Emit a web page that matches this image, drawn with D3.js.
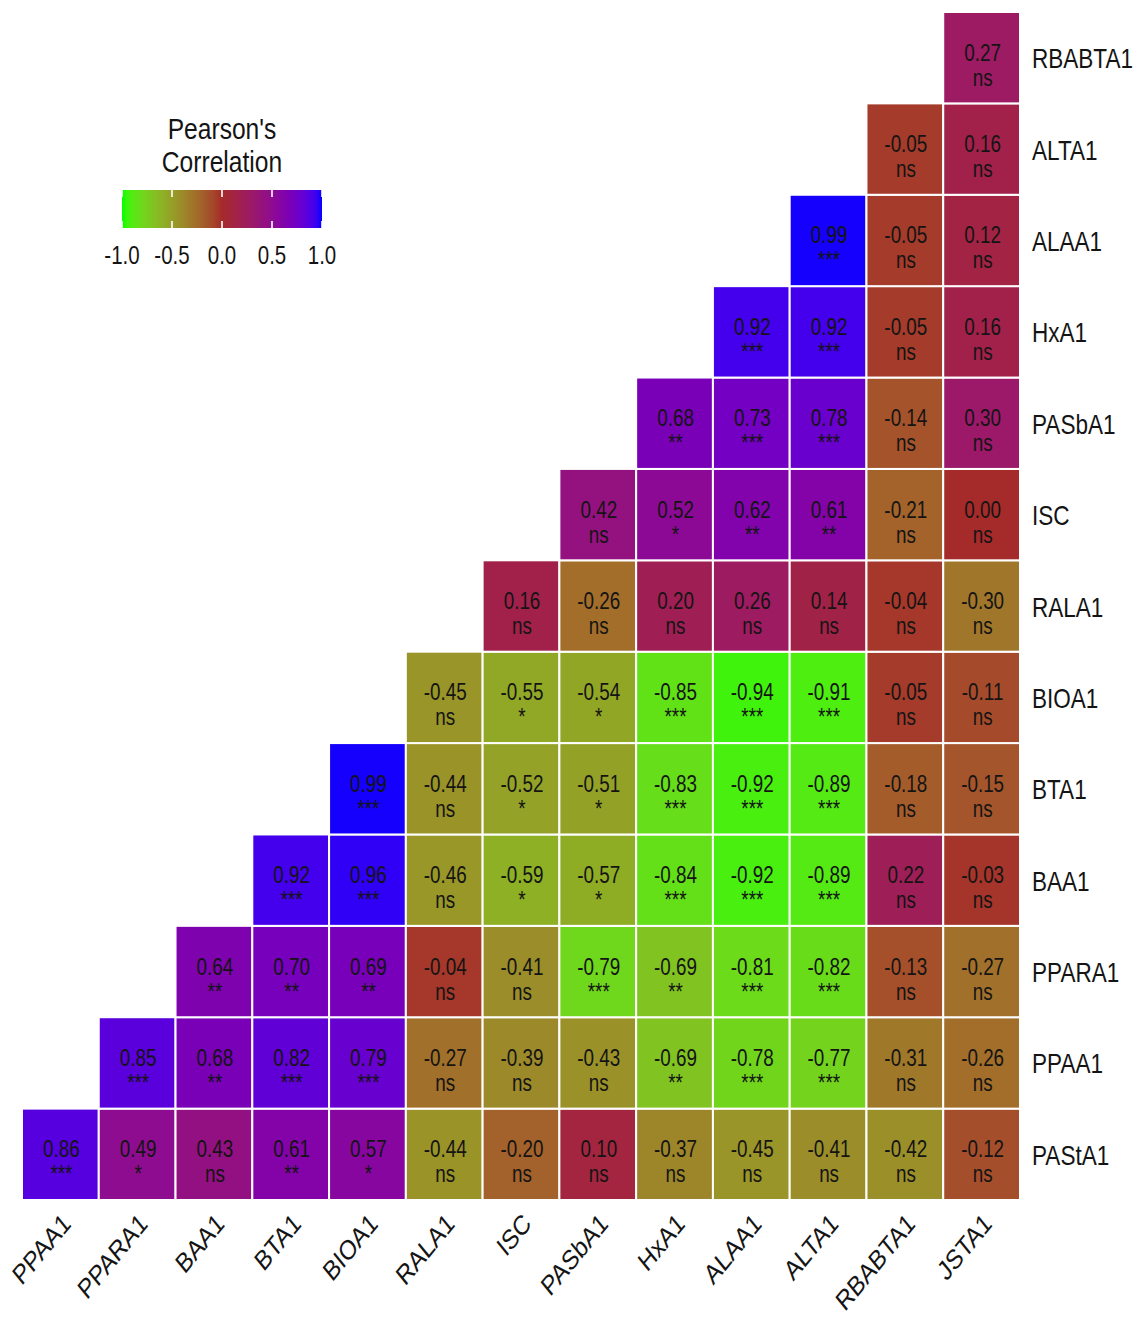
<!DOCTYPE html>
<html>
<head>
<meta charset="utf-8">
<script src="https://cdn.jsdelivr.net/npm/d3@7"></script>
<style>
  body { margin: 0; background: #fff; }
  svg { display: block; }
  text { font-family: "Liberation Sans", Arial, sans-serif; }
</style>
</head>
<body>
<svg id="chart" width="1137" height="1318"></svg>
<script>
// Variables in matrix order
const variables = ["PAStA1", "PPAA1", "PPARA1", "BAA1", "BTA1", "BIOA1", "RALA1",
                   "ISC", "PASbA1", "HxA1", "ALAA1", "ALTA1", "RBABTA1", "JSTA1"];

// Upper triangle: row i holds r(variables[i], variables[j]) for j = i+1 .. end
const correlations = [
  [0.86, 0.49, 0.43, 0.61, 0.57, -0.44, -0.20, 0.10, -0.37, -0.45, -0.41, -0.42, -0.12],
  [0.85, 0.68, 0.82, 0.79, -0.27, -0.39, -0.43, -0.69, -0.78, -0.77, -0.31, -0.26],
  [0.64, 0.70, 0.69, -0.04, -0.41, -0.79, -0.69, -0.81, -0.82, -0.13, -0.27],
  [0.92, 0.96, -0.46, -0.59, -0.57, -0.84, -0.92, -0.89, 0.22, -0.03],
  [0.99, -0.44, -0.52, -0.51, -0.83, -0.92, -0.89, -0.18, -0.15],
  [-0.45, -0.55, -0.54, -0.85, -0.94, -0.91, -0.05, -0.11],
  [0.16, -0.26, 0.20, 0.26, 0.14, -0.04, -0.30],
  [0.42, 0.52, 0.62, 0.61, -0.21, 0.00],
  [0.68, 0.73, 0.78, -0.14, 0.30],
  [0.92, 0.92, -0.05, 0.16],
  [0.99, -0.05, 0.12],
  [-0.05, 0.16],
  [0.27]
];

// Significance codes, same layout as correlations
const significance = [
  ["***", "*", "ns", "**", "*", "ns", "ns", "ns", "ns", "ns", "ns", "ns", "ns"],
  ["***", "**", "***", "***", "ns", "ns", "ns", "**", "***", "***", "ns", "ns"],
  ["**", "**", "**", "ns", "ns", "***", "**", "***", "***", "ns", "ns"],
  ["***", "***", "ns", "*", "*", "***", "***", "***", "ns", "ns"],
  ["***", "ns", "*", "*", "***", "***", "***", "ns", "ns"],
  ["ns", "*", "*", "***", "***", "***", "ns", "ns"],
  ["ns", "ns", "ns", "ns", "ns", "ns", "ns"],
  ["ns", "*", "**", "**", "ns", "ns"],
  ["**", "***", "***", "ns", "ns"],
  ["***", "***", "ns", "ns"],
  ["***", "ns", "ns"],
  ["ns", "ns"],
  ["ns"]
];

const legendTitle = ["Pearson's", "Correlation"];
const legendTicks = [-1, -0.5, 0, 0.5, 1];
const legendTickLabels = ["-1.0", "-0.5", "0.0", "0.5", "1.0"];

// Text is drawn slightly condensed horizontally
const SX = 0.82;
const TEXT = "#141414";

const svg = d3.select("#chart");

const xVars = variables.slice(1);
const yVars = variables.slice(0, -1).reverse();

const x = d3.scaleBand().domain(xVars).range([22, 1020]);
const y = d3.scaleBand().domain(yVars).range([12, 1200]);

const color = d3.scaleLinear()
  .domain([-1, 0, 1])
  .range(["#00ff00", "#a52a2a", "#0000ff"])
  .interpolate(d3.interpolateLab);

const cells = [];
correlations.forEach((row, i) => {
  row.forEach((r, k) => {
    cells.push({ row: variables[i], col: variables[i + 1 + k], r, sig: significance[i][k] });
  });
});

// Heatmap tiles
svg.append("g")
  .selectAll("rect")
  .data(cells)
  .join("rect")
  .attr("x", d => x(d.col))
  .attr("y", d => y(d.row))
  .attr("width", x.bandwidth())
  .attr("height", y.bandwidth())
  .attr("fill", d => color(d.r))
  .attr("stroke", "#ffffff")
  .attr("stroke-width", 2);

// Coefficient and significance labels
const cellText = svg.append("g")
  .selectAll("g")
  .data(cells)
  .join("g")
  .attr("transform", d =>
    `translate(${x(d.col) + x.bandwidth() / 2 + 1},${y(d.row) + y.bandwidth() / 2}) scale(${SX},1)`);

cellText.append("text")
  .attr("text-anchor", "middle")
  .attr("y", 3)
  .attr("font-size", 23)
  .attr("fill", TEXT)
  .text(d => d.r.toFixed(2));

cellText.append("text")
  .attr("text-anchor", "middle")
  .attr("y", 28)
  .attr("font-size", 23)
  .attr("fill", TEXT)
  .text(d => d.sig);

// Row labels on the right
const yAxis = svg.append("g")
  .attr("transform", "translate(1020,0)")
  .call(d3.axisRight(y).tickSize(0).tickPadding(0));
yAxis.select(".domain").remove();
yAxis.attr("font-family", null).attr("font-size", null);
yAxis.selectAll("text")
  .attr("x", 0)
  .attr("dy", null)
  .attr("font-size", 27.5)
  .attr("fill", TEXT)
  .attr("transform", `translate(12,10.5) scale(${SX},1)`);

// Column labels along the bottom, rotated
const xAxis = svg.append("g")
  .attr("transform", "translate(0,1211)")
  .call(d3.axisBottom(x).tickSize(0).tickPadding(0));
xAxis.select(".domain").remove();
xAxis.attr("font-family", null).attr("font-size", null);
xAxis.selectAll("text")
  .attr("x", 0)
  .attr("y", 20)
  .attr("dy", null)
  .attr("text-anchor", "end")
  .attr("font-size", 27.5)
  .attr("fill", TEXT)
  .attr("transform", `scale(${SX},1) rotate(-45)`);

// Colour bar legend
const legend = svg.append("g");
const lx = d3.scaleLinear().domain([-1, 1]).range([122, 322]);

const grad = svg.append("defs").append("linearGradient")
  .attr("id", "corrGradient")
  .attr("x1", "0%").attr("x2", "100%").attr("y1", "0%").attr("y2", "0%");
grad.selectAll("stop")
  .data(d3.range(0, 1.0001, 0.025))
  .join("stop")
  .attr("offset", t => `${t * 100}%`)
  .attr("stop-color", t => color(-1 + 2 * t));

legend.selectAll("text.title")
  .data(legendTitle)
  .join("text")
  .attr("class", "title")
  .attr("transform", (d, i) => `translate(222,${139 + i * 33}) scale(${SX},1)`)
  .attr("text-anchor", "middle")
  .attr("font-size", 30)
  .attr("fill", TEXT)
  .text(d => d);

legend.append("rect")
  .attr("x", lx(-1))
  .attr("y", 190)
  .attr("width", lx(1) - lx(-1))
  .attr("height", 38)
  .attr("fill", "url(#corrGradient)");

legend.selectAll("line.tickTop")
  .data(legendTicks)
  .join("line")
  .attr("class", "tickTop")
  .attr("x1", d => lx(d)).attr("x2", d => lx(d))
  .attr("y1", 190).attr("y2", 197)
  .attr("stroke", "#ffffff").attr("stroke-width", 1.6);

legend.selectAll("line.tickBottom")
  .data(legendTicks)
  .join("line")
  .attr("class", "tickBottom")
  .attr("x1", d => lx(d)).attr("x2", d => lx(d))
  .attr("y1", 221).attr("y2", 228)
  .attr("stroke", "#ffffff").attr("stroke-width", 1.6);

legend.selectAll("text.tickLabel")
  .data(legendTicks)
  .join("text")
  .attr("class", "tickLabel")
  .attr("transform", d => `translate(${lx(d)},264) scale(${SX},1)`)
  .attr("text-anchor", "middle")
  .attr("font-size", 25)
  .attr("fill", TEXT)
  .text((d, i) => legendTickLabels[i]);
</script>
</body>
</html>
